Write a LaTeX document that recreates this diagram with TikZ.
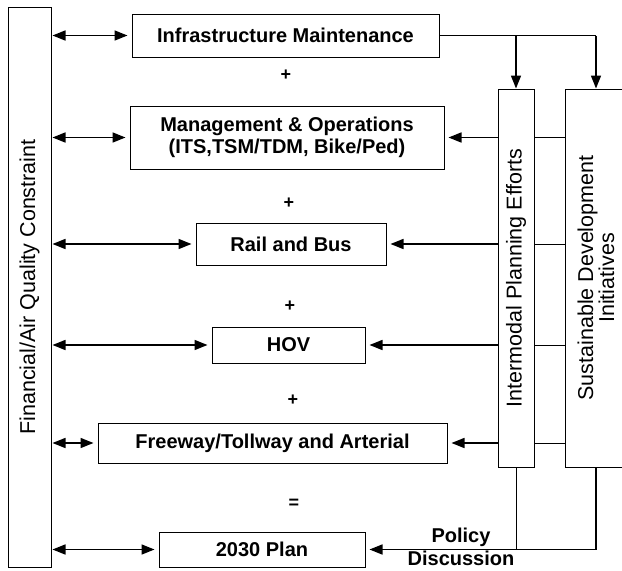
\documentclass[tikz,border=0pt]{standalone}
\usepackage{fontspec}
\setmainfont{Liberation Sans}
\usetikzlibrary{arrows.meta}
\begin{document}
\begin{tikzpicture}[x=1pt,y=-1pt,
  box/.style={draw, line width=1pt, rectangle, inner sep=0pt, align=center,
    font=\bfseries\fontsize{20}{22}\selectfont},
  vbox/.style={draw, line width=1pt, rectangle, inner sep=0pt},
  vtext/.style={rotate=90, align=center, font=\fontsize{21.5}{18}\selectfont},
  arr/.style={-{Triangle[length=13pt,width=10pt]}, line width=1.6pt},
  dbl/.style={{Triangle[length=13pt,width=10pt]}-{Triangle[length=13pt,width=10pt]}, line width=1.6pt, shorten >=4pt, shorten <=1pt},
  thinline/.style={line width=0.8pt},
  thickline/.style={line width=1.6pt},
  sym/.style={font=\bfseries\fontsize{18}{20}\selectfont, inner sep=0pt}
]
\useasboundingbox (0,0) rectangle (622,571);
\clip (0,0) rectangle (622,571);

% left constraint box
\node[vbox, minimum width=43pt, minimum height=560pt,
  label={[vtext]center:Financial/Air Quality Constraint}] (fin) at (29.5,287) {};

% centre boxes
\node[box, minimum width=307pt, minimum height=43pt] (infra) at (285.5,35.5) {Infrastructure Maintenance};
\node[box, minimum width=314pt, minimum height=63pt] (mo) at (287,137.5) {Management \& Operations\\(ITS,TSM/TDM, Bike/Ped)};
\node[box, minimum width=190pt, minimum height=42pt] (rail) at (291,244) {Rail and Bus};
\node[box, minimum width=153pt, minimum height=36pt] (hov) at (288.5,345) {HOV};
\node[box, minimum width=349pt, minimum height=40pt] (free) at (272.5,443) {Freeway/Tollway and Arterial};
\node[box, minimum width=206pt, minimum height=35pt] (plan) at (262,549.5) {2030 Plan};

% right boxes
\node[vbox, minimum width=36pt, minimum height=378pt,
  label={[vtext]center:Intermodal Planning Efforts}] (inter) at (516,278) {};
\node[vbox, minimum width=62pt, minimum height=378pt,
  label={[vtext]center:Sustainable Development\\Initiatives}] (sust) at (596,278) {};

% operators
\node[sym] (p1) at (286,75) {+};
\node[sym] (p2) at (289,203) {+};
\node[sym] (p3) at (290,306) {+};
\node[sym] (p4) at (293,400) {+};
\node[sym] (eq) at (294,504) {=};

% left double arrows
\draw[dbl] (fin.east |- infra.west) -- (infra.west);
\draw[dbl] (fin.east |- mo.west) -- (mo.west);
\draw[dbl] (fin.east |- rail.west) -- (rail.west);
\draw[dbl] (fin.east |- hov.west) -- (hov.west);
\draw[dbl] (fin.east |- free.west) -- (free.west);
\draw[dbl] (fin.east |- plan.west) -- (plan.west);

% top feed
\coordinate (tr) at (infra.east -| sust.north);
\draw[thickline] (infra.east) -- (tr);
\draw[arr] (infra.east -| inter.north) -- (inter.north);
\draw[arr] (tr) -- (sust.north);

% intermodal to boxes
\draw[arr, shorten >=4pt] (inter.west |- mo.east) -- (mo.east);
\draw[arr, shorten >=4pt] (inter.west |- rail.east) -- (rail.east);
\draw[arr, shorten >=4pt] (inter.west |- hov.east) -- (hov.east);
\draw[arr, shorten >=4pt] (inter.west |- free.east) -- (free.east);

% links between intermodal and sustainable
\draw[thinline] (inter.east |- mo.east) -- (sust.west |- mo.east);
\draw[thinline] (inter.east |- rail.east) -- (sust.west |- rail.east);
\draw[thinline] (inter.east |- hov.east) -- (sust.west |- hov.east);
\draw[thinline] (inter.east |- free.east) -- (sust.west |- free.east);

% bottom feed
\coordinate (bl) at (inter.south |- plan.east);
\coordinate (br) at (sust.south |- plan.east);
\draw[thinline] (inter.south) -- (bl);
\draw[thickline] (sust.south) -- (br);
\draw[arr, shorten >=4pt] (br) -- (plan.east);
\node[align=center, font=\bfseries\fontsize{20}{23}\selectfont, inner sep=0pt] (policy) at (461,547) {Policy\\Discussion};
\end{tikzpicture}
\end{document}
